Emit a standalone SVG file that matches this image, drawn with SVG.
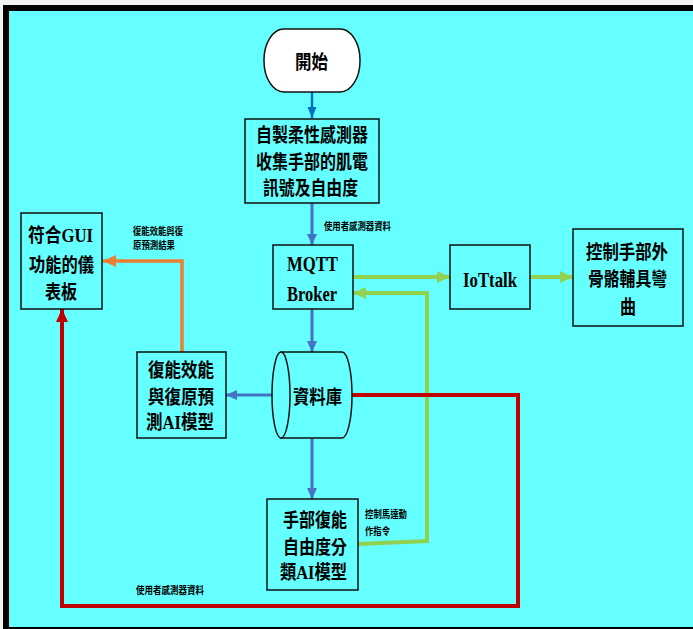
<svg xmlns="http://www.w3.org/2000/svg" width="693" height="629" viewBox="0 0 693 629">
<style>
.box{fill:#66FFFF;stroke:#111;stroke-width:1.5}
.t{font-family:"Liberation Serif","Noto Sans CJK TC",serif;font-weight:bold;font-size:19px;fill:#000;dominant-baseline:central}
.l{font-size:22px}
.s{font-family:"Liberation Serif","Noto Sans CJK TC",serif;font-weight:bold;font-size:10px;fill:#000;dominant-baseline:central}
.blue{fill:none;stroke:#4472C4;stroke-width:3}
.green{fill:none;stroke:#92D050;stroke-width:4}
.orange{fill:none;stroke:#ED7D31;stroke-width:3.5}
.red{fill:none;stroke:#C00000;stroke-width:4}
</style>
<defs>
<marker id="ab" markerUnits="userSpaceOnUse" markerWidth="12" markerHeight="12" refX="11" refY="6" orient="auto"><path d="M0,1 L11,6 L0,11 Z" fill="#4472C4"/></marker>
<marker id="ab2" markerUnits="userSpaceOnUse" markerWidth="12" markerHeight="12" refX="11" refY="6" orient="auto"><path d="M0,1.5 L11,6 L0,10.5 Z" fill="#0070C0"/></marker>
<marker id="ag" markerUnits="userSpaceOnUse" markerWidth="14" markerHeight="14" refX="13" refY="7" orient="auto"><path d="M0,1 L13,7 L0,13 Z" fill="#92D050"/></marker>
<marker id="ao" markerUnits="userSpaceOnUse" markerWidth="14" markerHeight="14" refX="13" refY="7" orient="auto"><path d="M0,1 L13,7 L0,13 Z" fill="#ED7D31"/></marker>
<marker id="ar" markerUnits="userSpaceOnUse" markerWidth="14" markerHeight="14" refX="13" refY="7" orient="auto"><path d="M0,1 L13,7 L0,13 Z" fill="#C00000"/></marker>
</defs>
<rect x="0" y="0" width="693" height="629" fill="#f2f2f2"/>
<rect x="3" y="5" width="700" height="630" fill="#000"/>
<rect x="9" y="11" width="690" height="616" fill="#66FFFF"/>

<g id="connectors">
<path class="blue" style="stroke:#0070C0;stroke-width:2.5" d="M312,92 L312,118" marker-end="url(#ab2)"/>
<path class="blue" d="M312,203 L312,245" marker-end="url(#ab)"/>
<path class="blue" d="M312,309 L312,352" marker-end="url(#ab)"/>
<path class="blue" d="M272,395 L226,395" marker-end="url(#ab)"/>
<path class="blue" d="M312,438 L312,499" marker-end="url(#ab)"/>
<path class="orange" d="M182,352 L182,261 L103,261" marker-end="url(#ao)"/>
<path class="green" d="M353,277 L450,277" marker-end="url(#ag)"/>
<path class="green" d="M530,277 L573,277" marker-end="url(#ag)"/>
<path class="green" d="M358,544 L427,541 L427,293 L353,293" marker-end="url(#ag)"/>
<path class="red" d="M352,395 L518,395 L518,606 L62,606 L62,309" marker-end="url(#ar)"/>
<text class="s" x="324" y="226" textLength="67" lengthAdjust="spacingAndGlyphs">使用者感測器資料</text>
<text class="s" x="133" y="231" textLength="50" lengthAdjust="spacingAndGlyphs">復能效能與復</text>
<text class="s" x="133" y="245" textLength="42" lengthAdjust="spacingAndGlyphs">原預測結果</text>
<text class="s" x="365" y="514" textLength="42" lengthAdjust="spacingAndGlyphs">控制馬達動</text>
<text class="s" x="365" y="531" textLength="25" lengthAdjust="spacingAndGlyphs">作指令</text>
<text class="s" x="136" y="590" textLength="68" lengthAdjust="spacingAndGlyphs">使用者感測器資料</text>
</g>

<g id="start">
<rect x="264" y="29" width="96" height="63" rx="20" ry="31" fill="#fff" stroke="#111" stroke-width="1.5"/>
<text class="t" x="295" y="62" textLength="33" lengthAdjust="spacingAndGlyphs">開始</text>
</g>
<g id="sensor">
<rect class="box" x="245" y="119" width="134" height="84"/>
<text class="t" x="256" y="135" textLength="112" lengthAdjust="spacingAndGlyphs">自製柔性感測器</text>
<text class="t" x="256" y="162" textLength="112" lengthAdjust="spacingAndGlyphs">收集手部的肌電</text>
<text class="t" x="263" y="188" textLength="95" lengthAdjust="spacingAndGlyphs">訊號及自由度</text>
</g>
<g id="gui">
<rect class="box" x="21" y="213" width="81" height="96"/>
<text class="t" x="28" y="235" textLength="65" lengthAdjust="spacingAndGlyphs">符合GUI</text>
<text class="t" x="29" y="265" textLength="65" lengthAdjust="spacingAndGlyphs">功能的儀</text>
<text class="t" x="45" y="292" textLength="32" lengthAdjust="spacingAndGlyphs">表板</text>
</g>
<g id="mqtt">
<rect class="box" x="273" y="245" width="80" height="64"/>
<text class="t l" x="287" y="263" textLength="51" lengthAdjust="spacingAndGlyphs">MQTT</text>
<text class="t l" x="287" y="293" textLength="50" lengthAdjust="spacingAndGlyphs">Broker</text>
</g>
<g id="iottalk">
<rect class="box" x="450" y="245" width="80" height="64"/>
<text class="t l" x="463" y="279" textLength="54" lengthAdjust="spacingAndGlyphs">IoTtalk</text>
</g>
<g id="control">
<rect class="box" x="573" y="229" width="110" height="97"/>
<text class="t" x="586" y="252" textLength="82" lengthAdjust="spacingAndGlyphs">控制手部外</text>
<text class="t" x="588" y="279" textLength="79" lengthAdjust="spacingAndGlyphs">骨骼輔具彎</text>
<text class="t" x="620" y="307" textLength="16" lengthAdjust="spacingAndGlyphs">曲</text>
</g>
<g id="predict">
<rect class="box" x="137" y="352" width="89" height="86"/>
<text class="t" x="148" y="370" textLength="66" lengthAdjust="spacingAndGlyphs">復能效能</text>
<text class="t" x="148" y="397" textLength="66" lengthAdjust="spacingAndGlyphs">與復原預</text>
<text class="t" x="146" y="422" textLength="68" lengthAdjust="spacingAndGlyphs">測AI模型</text>
</g>
<g id="database">
<path class="box" d="M281,352 L342,352 A10,43 0 0 1 342,438 L281,438 Z"/>
<ellipse class="box" cx="281" cy="395" rx="9" ry="43"/>
<text class="t" x="293" y="397" textLength="49" lengthAdjust="spacingAndGlyphs">資料庫</text>
</g>
<g id="classify">
<rect class="box" x="267" y="499" width="91" height="91"/>
<text class="t" x="283" y="520" textLength="64" lengthAdjust="spacingAndGlyphs">手部復能</text>
<text class="t" x="283" y="547" textLength="64" lengthAdjust="spacingAndGlyphs">自由度分</text>
<text class="t" x="280" y="572" textLength="67" lengthAdjust="spacingAndGlyphs">類AI模型</text>
</g>
</svg>
